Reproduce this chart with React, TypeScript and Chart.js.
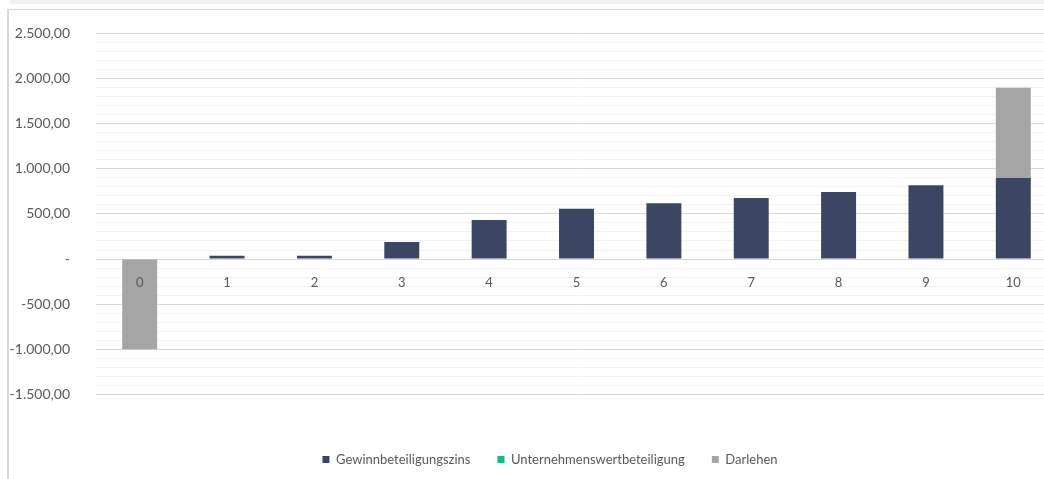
import React, { useEffect, useRef } from "react";
import { Chart, registerables } from "chart.js";

Chart.register(...registerables);

const categories = ["0", "1", "2", "3", "4", "5", "6", "7", "8", "9", "10"];
const gewinnbeteiligungszins = [0, 35, 35, 188, 432, 558, 617, 676, 743, 817, 898];
const unternehmenswertbeteiligung = [0, 0, 0, 0, 0, 0, 0, 0, 0, 0, 0];
const darlehen = [-1000, 0, 0, 0, 0, 0, 0, 0, 0, 0, 1000];
const seriesNames = ["Gewinnbeteiligungszins", "Unternehmenswertbeteiligung", "Darlehen"];
const seriesColors = ["#3a4663", "#00c389", "#a5a5a5"];
const yMin = -1500;
const yMax = 2500;

const FONT = "Lato, 'Open Sans', sans-serif";

function formatDe(v: number): string {
  if (v === 0) return "-";
  const neg = v < 0;
  const abs = Math.abs(v);
  const intPart = Math.floor(abs).toString().replace(/\B(?=(\d{3})+(?!\d))/g, ".");
  return (neg ? "-" : "") + intPart + ",00";
}

export default function App() {
  const ref = useRef<HTMLCanvasElement | null>(null);

  useEffect(() => {
    document.body.style.margin = "0";
    const ctx = ref.current!;
    const chart = new Chart(ctx, {
      type: "bar",
      data: {
        labels: categories,
        datasets: [
          { label: seriesNames[0], data: gewinnbeteiligungszins, backgroundColor: seriesColors[0] },
          { label: seriesNames[1], data: unternehmenswertbeteiligung, backgroundColor: seriesColors[1] },
          { label: seriesNames[2], data: darlehen, backgroundColor: seriesColors[2] },
        ],
      },
      options: {
        responsive: false,
        animation: false,
        maintainAspectRatio: false,
        datasets: { bar: { categoryPercentage: 1, barPercentage: 0.4, borderWidth: 0 } },
        layout: { padding: { top: 12, right: 0, left: 0, bottom: 4 } },
        plugins: {
          tooltip: { enabled: false },
          legend: {
            position: "bottom",
            title: { display: true, text: " ", padding: { top: 0, bottom: 16 }, font: { family: FONT, size: 13 } },
            labels: {
              boxWidth: 7,
              boxHeight: 7,
              padding: 27,
              color: "#595959",
              font: { family: FONT, size: 13 },
            },
          },
        },
        scales: {
          x: {
            stacked: true,
            position: { y: 0 } as any,
            grid: { display: false },
            border: { display: false },
            ticks: { z: 1, color: "#595959", font: { family: FONT, size: 13 }, padding: 8 },
          },
          y: {
            stacked: true,
            min: yMin,
            max: yMax,
            afterFit: (scale: any) => {
              scale.width = 87;
            },
            border: { display: false },
            grid: {
              drawTicks: false,
              color: (c: any) => {
                const v = c.tick ? c.tick.value : 0;
                return v % 500 === 0 ? "#d9d9d9" : "#f2f2f2";
              },
            },
            ticks: {
              stepSize: 100,
              padding: 26,
              autoSkip: false,
              color: "#595959",
              font: { family: FONT, size: 14 },
              callback: (v: any) => {
                const n = Number(v);
                return n % 500 === 0 ? formatDe(n) : "";
              },
            },
          },
          yRight: {
            position: "right",
            min: yMin,
            max: yMax,
            grid: { display: false, drawTicks: false },
            border: { display: false },
            ticks: { display: false },
            afterFit: (scale: any) => {
              scale.width = 34;
            },
          },
        },
      },
    });
    return () => chart.destroy();
  }, []);

  return (
    <div style={{ position: "fixed", left: 0, top: 0, width: 1044, height: 479, overflow: "hidden", background: "#ffffff" }}>
      <div style={{ position: "absolute", left: 10, top: 0, width: 1034, height: 4, background: "#f2f2f2" }} />
      <div
        style={{
          position: "absolute",
          left: 7,
          top: 9,
          width: 1100,
          height: 500,
          borderLeft: "2px solid #d9d9d9",
          borderTop: "1px solid #d9d9d9",
          boxSizing: "border-box",
        }}
      />
      <canvas
        ref={ref}
        width={1082}
        height={481}
        style={{ position: "absolute", left: 9, top: -1, display: "block", width: 1082, height: 481 }}
      />
    </div>
  );
}
